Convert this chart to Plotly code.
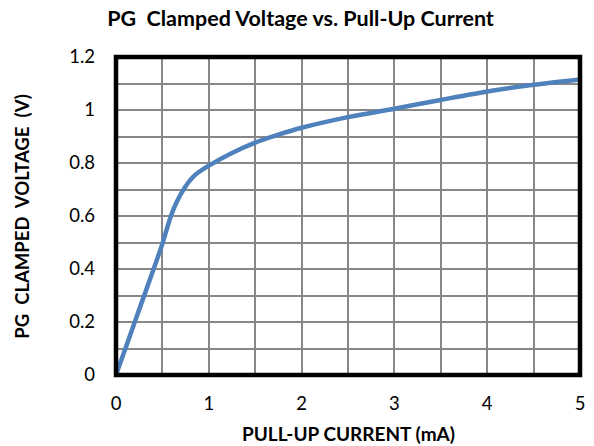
import plotly.graph_objects as go

# Pull-up current (mA) and resulting clamped PG voltage (V)
current_ma = [0.0, 0.25, 0.5, 0.58, 0.65, 0.74, 0.85, 1.0, 1.25, 1.5, 1.75, 2.0, 2.5, 3.0, 3.5, 4.0, 4.5, 5.0]
voltage_v = [0.0, 0.247, 0.495, 0.588, 0.65, 0.707, 0.754, 0.79, 0.838, 0.877, 0.907, 0.933, 0.973, 1.005, 1.038, 1.07, 1.095, 1.115]

x_ticks = [0, 1, 2, 3, 4, 5]
y_ticks = [0, 0.2, 0.4, 0.6, 0.8, 1, 1.2]

FONT = "Lato"
GRID = "#878787"

fig = go.Figure()
fig.add_trace(go.Scatter(
    x=current_ma, y=voltage_v, mode="lines",
    line=dict(color="#4F81BD", width=4.5, shape="spline", smoothing=0.7),
    hoverinfo="x+y", showlegend=False,
))

fig.update_layout(
    width=594, height=446,
    margin=dict(l=115.5, r=8.5, t=56.5, b=70.5),
    paper_bgcolor="white", plot_bgcolor="white",
    font=dict(family=FONT, size=18.5, color="black"),
    title=dict(text="<b>PG  Clamped Voltage vs. Pull-Up Current</b>",
               x=300.5 / 594, xanchor="center", y=1 - 18 / 446, yanchor="middle",
               font=dict(family=FONT, size=21.5, color="black")),
    xaxis=dict(range=[0, 5], tickvals=x_ticks, showgrid=True, gridcolor=GRID, gridwidth=2,
               minor=dict(dtick=0.5, showgrid=True, gridcolor=GRID, gridwidth=2),
               zeroline=False, showline=False, ticks="", ticklabelstandoff=15),
    yaxis=dict(range=[0, 1.2], tickvals=y_ticks, showgrid=True, gridcolor=GRID, gridwidth=2,
               minor=dict(dtick=0.1, showgrid=True, gridcolor=GRID, gridwidth=2),
               zeroline=False, showline=False, ticks="", ticklabelstandoff=20),
    shapes=[dict(type="rect", xref="paper", yref="paper", x0=0, y0=0, x1=1, y1=1,
                 line=dict(color="black", width=4.5), layer="above")],
    annotations=[
        dict(text="<b>PULL-UP CURRENT (mA)</b>", xref="paper", yref="paper",
             x=0.5, y=-(434 - 375.5) / 319, xanchor="center", yanchor="middle", showarrow=False,
             font=dict(family=FONT, size=19, color="black")),
        dict(text="<b>PG  CLAMPED  VOLTAGE  (V)</b>", xref="paper", yref="paper",
             x=(20 - 115.5) / 470, y=0.5, xanchor="center", yanchor="middle", showarrow=False,
             textangle=-90,
             font=dict(family=FONT, size=18.5, color="black")),
    ],
)

fig.write_html("out.html")
